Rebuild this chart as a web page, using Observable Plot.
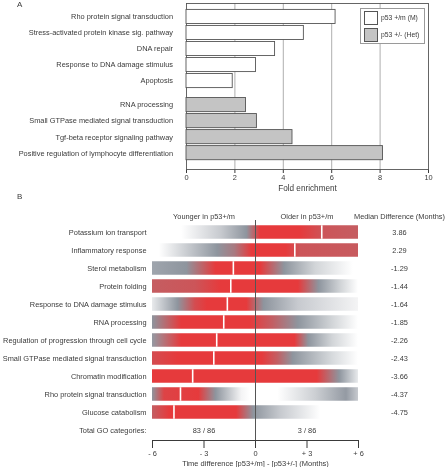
<!DOCTYPE html>
<html><head><meta charset="utf-8">
<script src="https://cdn.jsdelivr.net/npm/d3@7"></script>
<script src="https://cdn.jsdelivr.net/npm/@observablehq/plot@0.6"></script>
<style>
body{margin:0;background:#fff;}
#wrap{position:relative;width:445px;height:467px;font-family:"Liberation Sans",Arial,sans-serif;color:#3a3a3a;overflow:hidden;}
#wrap > svg{position:absolute;left:0;will-change:transform;}
.panel{position:absolute;font-size:8px;line-height:1;will-change:transform;}
#legend{position:absolute;left:360px;top:8px;width:63px;height:34px;border:1px solid #9a9a9a;background:#fff;font-size:6.8px;will-change:transform;}
.sw{position:absolute;left:3px;width:12px;height:12px;border:1px solid #555;}
.lt{position:absolute;left:20px;line-height:1;}
</style></head><body><div id="wrap"></div>
<script>
// ---- Panel A data ----
const termsA = ["Rho protein signal transduction","Stress-activated protein kinase sig. pathway","DNA repair","Response to DNA damage stimulus","Apoptosis","RNA processing","Small GTPase mediated signal transduction","Tgf-beta receptor signaling pathway","Positive regulation of lymphocyte differentiation"];
const foldA = [6.16, 4.85, 3.66, 2.87, 1.91, 2.46, 2.91, 4.38, 8.12];
const groupA = ["M","M","M","M","M","Het","Het","Het","Het"];
const groupsA = ["M","Het"];
const groupLabelsA = ["p53 +/m (M)","p53 +/- (Het)"];
const ticksA = [0,2,4,6,8,10];

// ---- Panel B data ----
const termsB = ["Potassium ion transport","Inflammatory response","Sterol metabolism","Protein folding","Response to DNA damage stimulus","RNA processing","Regulation of progression through cell cycle","Small GTPase mediated signal transduction","Chromatin modification","Rho protein signal transduction","Glucose catabolism"];
const medianB = [3.86, 2.29, -1.29, -1.44, -1.64, -1.85, -2.26, -2.43, -3.66, -4.37, -4.75];
// density profile per term: [months, level] with level 0 = none, 1 = low, 2 = high
const densityB = [
  [[-6,0],[-4.3,0],[-2,0.5],[-0.5,1],[0.3,2],[2.6,2],[4,1.7],[6,1.62]],
  [[-6,0],[-5.6,0],[-2.2,1],[-1.2,1.3],[-0.2,2],[1.8,2],[2.6,1.7],[6,1.65]],
  [[-6,0.85],[-4,1],[-2.3,2],[0.3,2],[1.7,1],[3.5,0.4],[5.7,0],[6,0]],
  [[-6,1.62],[-3.5,1.7],[-2,2],[2.5,2],[3.7,1],[5,0.4],[6,0]],
  [[-6,0.2],[-4.5,1],[-3.5,1.8],[-2.8,2],[-0.5,2],[0.5,1],[2.5,0.5],[6,0.1]],
  [[-6,1],[-4.3,2],[-0.3,2],[1,1.6],[2.5,1],[4.5,0.4],[6,0]],
  [[-6,0.95],[-4.3,2],[2.3,2],[3.1,1],[4.5,0.4],[6,0]],
  [[-6,1.8],[-4.5,2],[0.4,2],[1.3,1.6],[2.2,1],[4.5,0.35],[6,0]],
  [[-6,2],[3.6,2],[4.9,1],[6,0.2]],
  [[-6,1],[-5.3,1.9],[-3.3,2],[-2.3,1],[-0.8,0.1],[-0.3,0],[1.3,0],[3.5,0.45],[5.3,0.95],[6,0.5]],
  [[-6,1.6],[-5,2],[-1.1,2],[-0.1,1],[1.5,0.5],[3.8,0],[6,0]]
];
const ticksB = [-6,-3,0,3,6];
const totalLabelB = "Total GO categories:";
const countsB = [83, 3];
const totalB = 86;
const headersB = ["Younger in p53+/m","Older in p53+/m","Median Difference (Months)"];
const axisTitleA = "Fold enrichment";
const axisTitleB = "Time difference [p53+/m] - [p53+/-] (Months)";

const FONT = '"Liberation Sans", Arial, sans-serif';
const TXT = "#3a3a3a";
const baseStyle = {fontFamily: FONT, fontSize: "7.4px", color: TXT, background: "transparent", overflow: "visible"};

// ---- Panel A ----
const dataA = termsA.map((t,i)=>({term:t, fold:foldA[i], group:groupA[i], pos: i + (groupA[i]==="Het" ? 0.5 : 0)}));
const colorA = {domain: groupsA, range: ["#ffffff","#c4c4c4"]};
const chartA = Plot.plot({
  width: 445, height: 197, marginLeft: 186, marginRight: 17, marginTop: 3, marginBottom: 28,
  style: baseStyle,
  x: {domain: [0,10], ticks: ticksA, tickSize: 4, tickPadding: 1, label: null},
  y: {domain: [-0.84, 9.52], reverse: true, axis: null},
  color: colorA,
  marks: [
    Plot.ruleX(ticksA.slice(1,-1), {stroke: "#9a9a9a", strokeWidth: 0.8}),
    Plot.frame({stroke: "#555", strokeWidth: 0.9}),
    Plot.rect(dataA, {x1: 0, x2: "fold", y1: d=>d.pos-0.44, y2: d=>d.pos+0.44, fill: "group", stroke: "#555", strokeWidth: 0.9}),
    Plot.text(dataA, {frameAnchor: "left", y: "pos", text: "term", textAnchor: "end", dx: -13.5, fill: TXT}),
    Plot.text([axisTitleA], {frameAnchor: "bottom", dy: 19, lineAnchor: "middle", text: d=>d, fontSize: 8.2, fill: TXT})
  ]
});

// ---- Panel B ----
const dataB = termsB.map((t,i)=>({term:t, median:medianB[i], i}));
const colorLevel = d3.piecewise(d3.interpolateRgb, ["#ffffff","#8e959e","#e63a3c"]);
const fmtB = d => d < 0 ? "- " + (-d) : d > 0 ? "+ " + d : "0";
const nB = termsB.length;
const chartB = Plot.plot({
  width: 445, height: 270, marginLeft: 152, marginRight: 87, marginTop: 23, marginBottom: 27,
  style: baseStyle,
  x: {domain: [ticksB[0], ticksB[ticksB.length-1]], ticks: ticksB, tickSize: 8, tickPadding: 2, tickFormat: fmtB, line: true, label: null},
  y: {domain: [-0.667, 11.556], reverse: true, axis: null},
  marks: [
    ...dataB.map(d => Plot.rect([d], {x1: ticksB[0], x2: ticksB[ticksB.length-1], y1: r=>r.i-0.375, y2: r=>r.i+0.375, fill: `url(#gradB${d.i})`})),
    Plot.ruleX(dataB, {x: "median", y1: d=>d.i-0.375, y2: d=>d.i+0.375, stroke: "#ffffff", strokeWidth: 1.6}),
    Plot.ruleX([0], {stroke: "#555", strokeWidth: 1}),
    Plot.text(dataB, {frameAnchor: "left", y: "i", dx: -6, textAnchor: "end", text: "term", fill: TXT}),
    Plot.text(dataB, {frameAnchor: "right", y: "i", dx: 41, textAnchor: "middle", text: d=>d.median.toFixed(2), fill: TXT}),
    Plot.text([totalLabelB], {frameAnchor: "left", y: nB, dx: -6, textAnchor: "end", text: d=>d, fill: TXT}),
    Plot.text(countsB, {x: (d,j)=> j===0 ? ticksB[1] : ticksB[3], y: nB, text: d=>`${d} / ${totalB}`, fill: TXT}),
    Plot.text(headersB.slice(0,2), {x: (d,j)=> j===0 ? ticksB[1] : ticksB[3], frameAnchor: "top", dy: -4.3, lineAnchor: "middle", text: d=>d, fill: TXT}),
    Plot.text([headersB[2]], {frameAnchor: "top-right", dx: 41, dy: -4.3, lineAnchor: "middle", textAnchor: "middle", text: d=>d, fill: TXT}),
    Plot.text([axisTitleB], {frameAnchor: "bottom", dy: 23, lineAnchor: "middle", text: d=>d, fontSize: 7.5, fill: TXT})
  ]
});

// gradients for panel B, positioned through the x scale
const xsB = chartB.scale("x");
const x0 = xsB.apply(ticksB[0]), x1 = xsB.apply(ticksB[ticksB.length-1]);
const defs = d3.select(chartB).insert("defs", ":first-child");
densityB.forEach((stops, i) => {
  const g = defs.append("linearGradient").attr("id", `gradB${i}`)
    .attr("x1", "0").attr("x2", "1").attr("y1", "0").attr("y2", "0");
  stops.forEach(([m, l]) => g.append("stop")
    .attr("offset", (xsB.apply(m) - x0) / (x1 - x0))
    .attr("stop-color", colorLevel(l / 2)));
});

const wrap = document.getElementById("wrap");
chartA.style.top = "0px";
chartB.style.top = "197px";
wrap.appendChild(chartA);
wrap.appendChild(chartB);

// panel letters
const la = document.createElement("div"); la.className = "panel"; la.textContent = "A";
la.style.left = "17px"; la.style.top = "1px"; wrap.appendChild(la);
const lb = document.createElement("div"); lb.className = "panel"; lb.textContent = "B";
lb.style.left = "17px"; lb.style.top = "193px"; wrap.appendChild(lb);

// legend for panel A
const leg = document.createElement("div"); leg.id = "legend";
groupsA.forEach((g, j) => {
  const sw = document.createElement("div"); sw.className = "sw";
  sw.style.top = (2 + j*17) + "px"; sw.style.background = colorA.range[j];
  const t = document.createElement("div"); t.className = "lt"; t.textContent = groupLabelsA[j];
  t.style.top = (6 + j*17) + "px";
  leg.appendChild(sw); leg.appendChild(t);
});
wrap.appendChild(leg);
</script></body></html>
